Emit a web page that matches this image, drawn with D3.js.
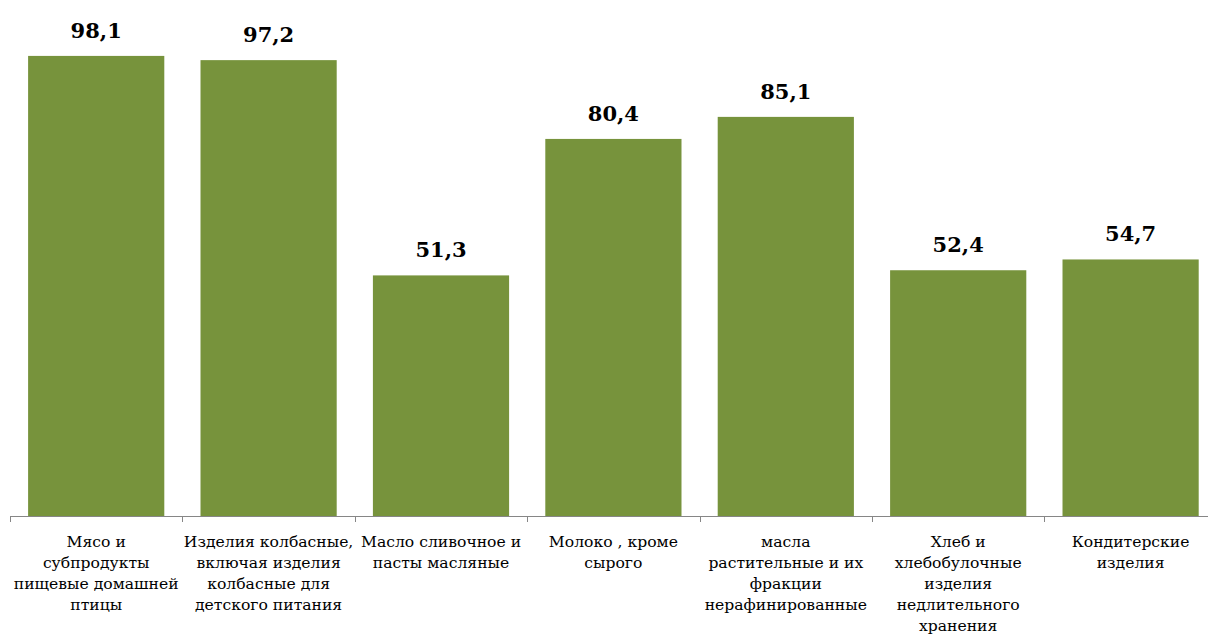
<!DOCTYPE html>
<html><head><meta charset="utf-8">
<script src="https://cdn.jsdelivr.net/npm/d3@7"></script>
<style>body{margin:0;background:#fff}</style>
</head><body>
<svg id="c" width="1208" height="635"></svg>
<script>
const categories = [
  "Мясо и\nсубпродукты\nпищевые домашней\nптицы",
  "Изделия колбасные,\nвключая изделия\nколбасные для\nдетского питания",
  "Масло сливочное и\nпасты масляные",
  "Молоко , кроме\nсырого",
  "масла\nрастительные и их\nфракции\nнерафинированные",
  "Хлеб и\nхлебобулочные\nизделия\nнедлительного\nхранения",
  "Кондитерские\nизделия"
];
const values = [98.1, 97.2, 51.3, 80.4, 85.1, 52.4, 54.7];
const valueLabels = ["98,1", "97,2", "51,3", "80,4", "85,1", "52,4", "54,7"];

const svg = d3.select("#c");
const x0 = 10, bandW = 172.4;
const x = d3.scaleBand().domain(d3.range(categories.length))
  .range([x0, x0 + bandW * categories.length]).paddingInner(0.21).paddingOuter(0.105);
const y = d3.scaleLinear().domain([0, 100]).range([516, 47]);

svg.selectAll("rect.bar").data(values).join("rect")
  .attr("class", "bar")
  .attr("x", (d, i) => x(i)).attr("width", x.bandwidth())
  .attr("y", d => y(d)).attr("height", d => y(0) - y(d))
  .attr("fill", "#77933C");

svg.selectAll("text.val").data(values).join("text")
  .attr("class", "val")
  .attr("x", (d, i) => x(i) + x.bandwidth() / 2)
  .attr("y", d => y(d) - 18)
  .attr("text-anchor", "middle")
  .attr("font-family", "DejaVu Serif")
  .attr("font-weight", "bold")
  .attr("font-size", 21)
  .attr("fill", "#000")
  .text((d, i) => valueLabels[i]);

// axis
const g = svg.append("g");
g.append("line").attr("x1", x0).attr("x2", x0 + bandW * categories.length)
  .attr("y1", 516.5).attr("y2", 516.5).attr("stroke", "#868686").attr("stroke-width", 1);
d3.range(categories.length + 1).forEach(i => {
  const tx = Math.round(x0 + bandW * i) + 0.5;
  g.append("line").attr("x1", tx).attr("x2", tx).attr("y1", 516).attr("y2", 522)
    .attr("stroke", "#868686");
});

const lbl = svg.selectAll("text.cat").data(categories).join("text")
  .attr("class", "cat")
  .attr("text-anchor", "middle")
  .attr("font-family", "DejaVu Serif")
  .attr("font-size", 15.6)
  .attr("fill", "#000");
lbl.each(function(d, i) {
  const t = d3.select(this);
  const cx = x0 + bandW * i + bandW / 2;
  d.split("\n").forEach((line, j) => {
    t.append("tspan").attr("x", cx).attr("y", 547 + j * 21).text(line);
  });
});
</script>
</body></html>
